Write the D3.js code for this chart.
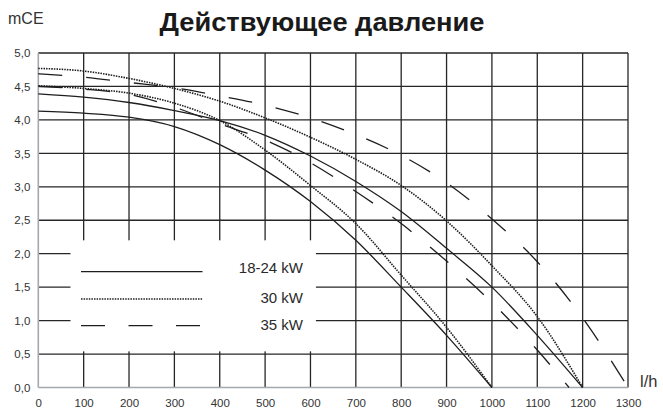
<!DOCTYPE html>
<html>
<head>
<meta charset="utf-8">
<script src="https://cdn.jsdelivr.net/npm/d3@7"></script>
<style>
	body { margin: 0; background: #fff; }
	svg { display: block; font-family: "Liberation Sans", Arial, sans-serif; }
</style>
</head>
<body>
<div id="pump-chart"></div>
<script>

// axis ticks
const flowTicks = [0, 100, 200, 300, 400, 500, 600, 700, 800, 900, 1000, 1100, 1200, 1300];
const headTicks = [0, 0.5, 1, 1.5, 2, 2.5, 3, 3.5, 4, 4.5, 5];

// 18-24 kW (solid), two pump speeds
const flow18Low = [0, 100, 200, 300, 400, 500, 600, 700, 800, 900, 1000];
const head18Low = [4.13, 4.10, 4.04, 3.90, 3.63, 3.25, 2.78, 2.20, 1.50, 0.78, 0];
const flow18High = [0, 100, 200, 300, 400, 500, 600, 700, 800, 900, 1000, 1100, 1200];
const head18High = [4.39, 4.34, 4.26, 4.14, 3.99, 3.77, 3.46, 3.08, 2.63, 2.08, 1.50, 0.78, 0];

// 30 kW (dotted)
const flow30Low = [0, 100, 200, 300, 400, 500, 600, 700, 800, 900, 1000];
const head30Low = [4.51, 4.47, 4.40, 4.25, 3.99, 3.55, 3.02, 2.45, 1.68, 0.90, 0];
const flow30High = [0, 100, 200, 300, 400, 500, 600, 700, 800, 900, 1000, 1100, 1200];
const head30High = [4.77, 4.73, 4.62, 4.47, 4.28, 4.03, 3.74, 3.41, 3.02, 2.49, 1.82, 1.06, 0];

// 35 kW (dashed)
const flow35Low = [0, 100, 200, 300, 400, 500, 600, 700, 800, 900, 1000, 1100, 1170];
const head35Low = [4.50, 4.46, 4.38, 4.19, 3.94, 3.70, 3.36, 2.93, 2.45, 1.89, 1.27, 0.56, 0];
const flow35High = [0, 100, 200, 300, 400, 500, 600, 700, 800, 900, 1000, 1100, 1200, 1300];
const head35High = [4.69, 4.64, 4.56, 4.48, 4.36, 4.22, 4.03, 3.78, 3.47, 3.06, 2.52, 1.88, 1.04, 0];

const legendLabels = ["18-24 kW", "30 kW", "35 kW"];

class PumpCurveChart {

	constructor(element_id) {

		const W = 663, H = 410;
		const margin = {top: 53, right: 35, bottom: 22.5, left: 38.3},
			width = W - margin.left - margin.right,
			height = H - margin.top - margin.bottom;

		const root = d3.select("#" + element_id)
			.append("svg")
				.attr("width", W)
				.attr("height", H);

		const svg = root.append("g")
			.attr("transform", "translate(" + margin.left + "," + margin.top + ")");

		const x = d3.scaleLinear().domain([0, 1300]).range([0, width]);
		const y = d3.scaleLinear().domain([0, 5]).range([height, 0]);

		// grid
		const gridColor = "#262626";
		svg.append("g")
			.selectAll("line")
			.data(flowTicks.filter(d => d > 0))
			.enter().append("line")
				.attr("x1", d => x(d)).attr("x2", d => x(d))
				.attr("y1", 0).attr("y2", height)
				.attr("stroke", gridColor)
				.attr("stroke-width", 1.3);

		svg.append("g")
			.selectAll("line")
			.data(headTicks.filter(d => d > 0))
			.enter().append("line")
				.attr("x1", 0).attr("x2", width)
				.attr("y1", d => y(d)).attr("y2", d => y(d))
				.attr("stroke", gridColor)
				.attr("stroke-width", 1.3);

		// white legend area cuts the grid
		svg.append("rect")
			.attr("x", x(71)).attr("y", y(2.2))
			.attr("width", x(612) - x(71))
			.attr("height", y(0.54) - y(2.2))
			.attr("fill", "#fff");

		// light axes on left and bottom
		svg.append("line")
			.attr("x1", 0).attr("x2", 0).attr("y1", 0).attr("y2", height)
			.attr("stroke", "#a4a8ad").attr("stroke-width", 1.6);
		svg.append("line")
			.attr("x1", 0).attr("x2", width).attr("y1", height).attr("y2", height)
			.attr("stroke", "#a4a8ad").attr("stroke-width", 1.6);

		// tick labels
		const xAxis = svg.append("g")
			.attr("transform", "translate(0," + height + ")")
			.call(d3.axisBottom(x).tickValues(flowTicks).tickSize(0).tickPadding(11.5)
				.tickFormat(d3.format("d")));
		const yAxis = svg.append("g")
			.call(d3.axisLeft(y).tickValues(headTicks).tickSize(0).tickPadding(8)
				.tickFormat(d => d3.format(".1f")(d).replace(".", ",")));
		[xAxis, yAxis].forEach(a => {
			a.select(".domain").remove();
			a.selectAll("text")
				.attr("fill", "#333")
				.style("font-size", "11.5px")
				.style("font-family", "\"Liberation Sans\", Arial, sans-serif");
		});

		// curves
		const lineGen = d3.line()
			.x(d => x(d[0]))
			.y(d => y(d[1]))
			.curve(d3.curveMonotoneX);

		const dotted = "1.5,1.1";
		const curves = [
			{q: flow18Low, h: head18Low, dash: null, w: 1.3},
			{q: flow18High, h: head18High, dash: null, w: 1.3},
			{q: flow30Low, h: head30Low, dash: dotted, w: 1.6},
			{q: flow30High, h: head30High, dash: dotted, w: 1.6},
			{q: flow35Low, h: head35Low, dash: "24,24", w: 1.3},
			{q: flow35High, h: head35High, dash: "24,24", w: 1.3}
		];

		svg.selectAll(".curve")
			.data(curves)
			.enter()
			.append("path")
				.attr("class", "curve")
				.attr("fill", "none")
				.attr("stroke", "#1e1e1e")
				.attr("stroke-width", d => d.w)
				.attr("stroke-dasharray", d => d.dash)
				.attr("d", d => lineGen(d.q.map((v, i) => [v, d.h[i]])));

		// legend
		const legendRows = [
			{label: legendLabels[0], y: 271.7, ty: 272.5, dash: null, w: 1.3},
			{label: legendLabels[1], y: 299, ty: 303, dash: dotted, w: 1.5},
			{label: legendLabels[2], y: 325.7, ty: 330, dash: "24,23.5", w: 1.3}
		];
		const legend = root.append("g");
		legend.selectAll("line")
			.data(legendRows)
			.enter().append("line")
				.attr("x1", 81).attr("x2", 202.5)
				.attr("y1", d => d.y).attr("y2", d => d.y)
				.attr("stroke", "#1e1e1e")
				.attr("stroke-width", d => d.w)
				.attr("stroke-dasharray", d => d.dash);
		legend.selectAll("text")
			.data(legendRows)
			.enter().append("text")
				.attr("x", 303).attr("y", d => d.ty)
				.attr("text-anchor", "end")
				.attr("fill", "#2a2a2a")
				.style("font-size", "15px")
				.text(d => d.label);

		// titles
		root.append("text")
			.attr("x", 322).attr("y", 31)
			.attr("text-anchor", "middle")
			.attr("fill", "#1a1a1a")
			.attr("textLength", 325)
			.attr("lengthAdjust", "spacingAndGlyphs")
			.style("font-size", "25px")
			.style("font-weight", "bold")
			.text("Действующее давление");

		root.append("text")
			.attr("x", 8).attr("y", 24)
			.attr("fill", "#333")
			.style("font-size", "16px")
			.text("mCE");

		root.append("text")
			.attr("x", 640).attr("y", 387)
			.attr("fill", "#333")
			.style("font-size", "16.5px")
			.text("l/h");
	}
}

function whenDocumentLoaded(action) {
	if (document.readyState === "loading") {
		document.addEventListener("DOMContentLoaded", action);
	} else {
		action();
	}
}

whenDocumentLoaded(() => {
	plot_object = new PumpCurveChart('pump-chart');
});
</script>
</body>
</html>
